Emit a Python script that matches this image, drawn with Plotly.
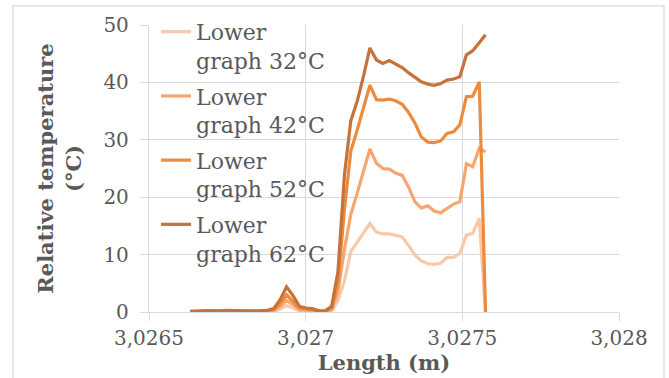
import plotly.graph_objects as go

length_m = [3.026632, 3.026652, 3.026673, 3.026693, 3.026714, 3.026734, 3.026755, 3.026775,
            3.026796, 3.026816, 3.026837, 3.026857, 3.026878, 3.026898, 3.026919, 3.026939,
            3.026960, 3.026980, 3.027001, 3.027021, 3.027042, 3.027062, 3.027083, 3.027103,
            3.027124, 3.027144, 3.027165, 3.027185, 3.027205, 3.027226, 3.027246, 3.027267,
            3.027287, 3.027308, 3.027328, 3.027349, 3.027369, 3.027390, 3.027410, 3.027431,
            3.027451, 3.027472, 3.027492, 3.027513, 3.027533, 3.027554, 3.027574]

lower_32 = [0.05, 0.05, 0.1, 0.1, 0.05, 0.1, 0.1, 0.1, 0.05, 0.1, 0.05, 0.05, 0.1,
            0.1, 0.5, 1.1, 0.7, 0.2, 0.1, 0.1, 0.0, 0.0, 0.2, 2.0, 5.5, 10.5, 12.2,
            13.8, 15.4, 13.9, 13.6, 13.6, 13.3, 13.1, 11.6, 9.9, 8.9, 8.4, 8.3, 8.5,
            9.5, 9.5, 10.2, 13.4, 13.7, 16.3, 0.0]

lower_42 = [0.05, 0.1, 0.15, 0.15, 0.1, 0.15, 0.15, 0.15, 0.1, 0.15, 0.1, 0.1, 0.15,
            0.2, 1.0, 2.0, 1.3, 0.4, 0.3, 0.2, 0.1, 0.05, 0.4, 3.5, 11.0, 17.0, 20.8,
            24.7, 28.4, 25.9, 25.0, 24.9, 24.2, 23.8, 21.8, 19.2, 18.1, 18.5, 17.6, 17.3,
            18.0, 18.8, 19.2, 25.8, 25.3, 28.5, 27.9]

lower_52 = [0.1, 0.1, 0.2, 0.2, 0.15, 0.2, 0.2, 0.2, 0.15, 0.2, 0.1, 0.15, 0.2,
            0.4, 1.5, 3.0, 1.9, 0.7, 0.5, 0.4, 0.1, 0.1, 0.7, 5.0, 18.0, 28.0, 31.8,
            35.6, 39.5, 37.0, 36.9, 37.1, 36.8, 36.2, 34.8, 32.9, 30.5, 29.6, 29.5, 29.8,
            31.1, 31.4, 32.6, 37.5, 37.6, 40.1, 0.0]

lower_62 = [0.1, 0.15, 0.3, 0.25, 0.2, 0.3, 0.3, 0.25, 0.2, 0.25, 0.15, 0.2, 0.3,
            0.6, 2.2, 4.4, 2.8, 1.0, 0.7, 0.6, 0.2, 0.2, 1.0, 7.0, 24.0, 33.3, 36.8,
            41.2, 46.0, 43.9, 43.3, 43.8, 43.2, 42.6, 41.7, 40.8, 40.1, 39.7, 39.5, 39.8,
            40.4, 40.6, 41.0, 44.8, 45.5, 46.9, 48.3]

series_names = ["Lower<br>graph 32°C", "Lower<br>graph 42°C", "Lower<br>graph 52°C", "Lower<br>graph 62°C"]
series_values = [lower_32, lower_42, lower_52, lower_62]
series_colors = ["#F9C8A8", "#F7A66F", "#EC8B3D", "#C5733A"]

x_ticks = [3.0265, 3.027, 3.0275, 3.028]
x_tick_labels = ["3,0265", "3,027", "3,0275", "3,028"]
y_ticks = [0, 10, 20, 30, 40, 50]

FONT = "DejaVu Serif"
TXT = "#595959"
GRID = "#D9D9D9"

fig = go.Figure()
for i, (name, vals, col) in enumerate(zip(series_names, series_values, series_colors)):
    fig.add_trace(go.Scatter(x=length_m, y=vals, mode="lines", name=name,
                             legendgroup="g%d" % i,
                             line=dict(color=col, width=3.2, shape="linear"),
                             hoverinfo="x+y"))

fig.update_layout(
    width=669, height=378,
    margin=dict(l=149, r=50, t=25, b=66.4, autoexpand=False),
    paper_bgcolor="white", plot_bgcolor="white",
    font=dict(family=FONT, color=TXT, size=20),
    showlegend=True,
    legend=dict(x=0.015, y=1.049, xanchor="left", yanchor="top",
                bgcolor="rgba(0,0,0,0)", font=dict(family=FONT, size=22, color=TXT),
                valign="top", tracegroupgap=4, itemwidth=30, maxheight=400),
    xaxis=dict(range=[3.0265, 3.028], tickvals=x_ticks, ticktext=x_tick_labels,
               showgrid=True, gridcolor=GRID, gridwidth=1,
               showline=True, linecolor=GRID, linewidth=1.3,
               ticks="outside", ticklen=8, tickcolor=GRID, tickwidth=1.3,
               tickfont=dict(family=FONT, size=20, color=TXT),
               zeroline=False,
               title=dict(text="<b>Length (m)</b>", font=dict(family=FONT, size=21, color=TXT),
                          standoff=0)),
    yaxis=dict(range=[0, 50], tickvals=y_ticks,
               showgrid=True, gridcolor=GRID, gridwidth=1,
               showline=True, linecolor=GRID, linewidth=1.3,
               ticks="outside", ticklen=8, tickcolor=GRID, tickwidth=1.3,
               tickfont=dict(family=FONT, size=20, color=TXT),
               ticklabelstandoff=7,
               zeroline=False,
               title=dict(text="<b>Relative temperature<br>(°C)</b>",
                          font=dict(family=FONT, size=21, color=TXT), standoff=16)),
    shapes=[dict(type="rect", xref="paper", yref="paper",
                 x0=(13 - 149) / 470, x1=(664 - 149) / 470,
                 y0=-0.3, y1=1 + (25 - 6) / 286.6,
                 line=dict(color=GRID, width=1.3), fillcolor="rgba(0,0,0,0)", layer="below")],
)

fig.write_html("out.html", config={"displayModeBar": False},
               post_script="document.body.style.margin='0';document.body.style.overflow='hidden';")
